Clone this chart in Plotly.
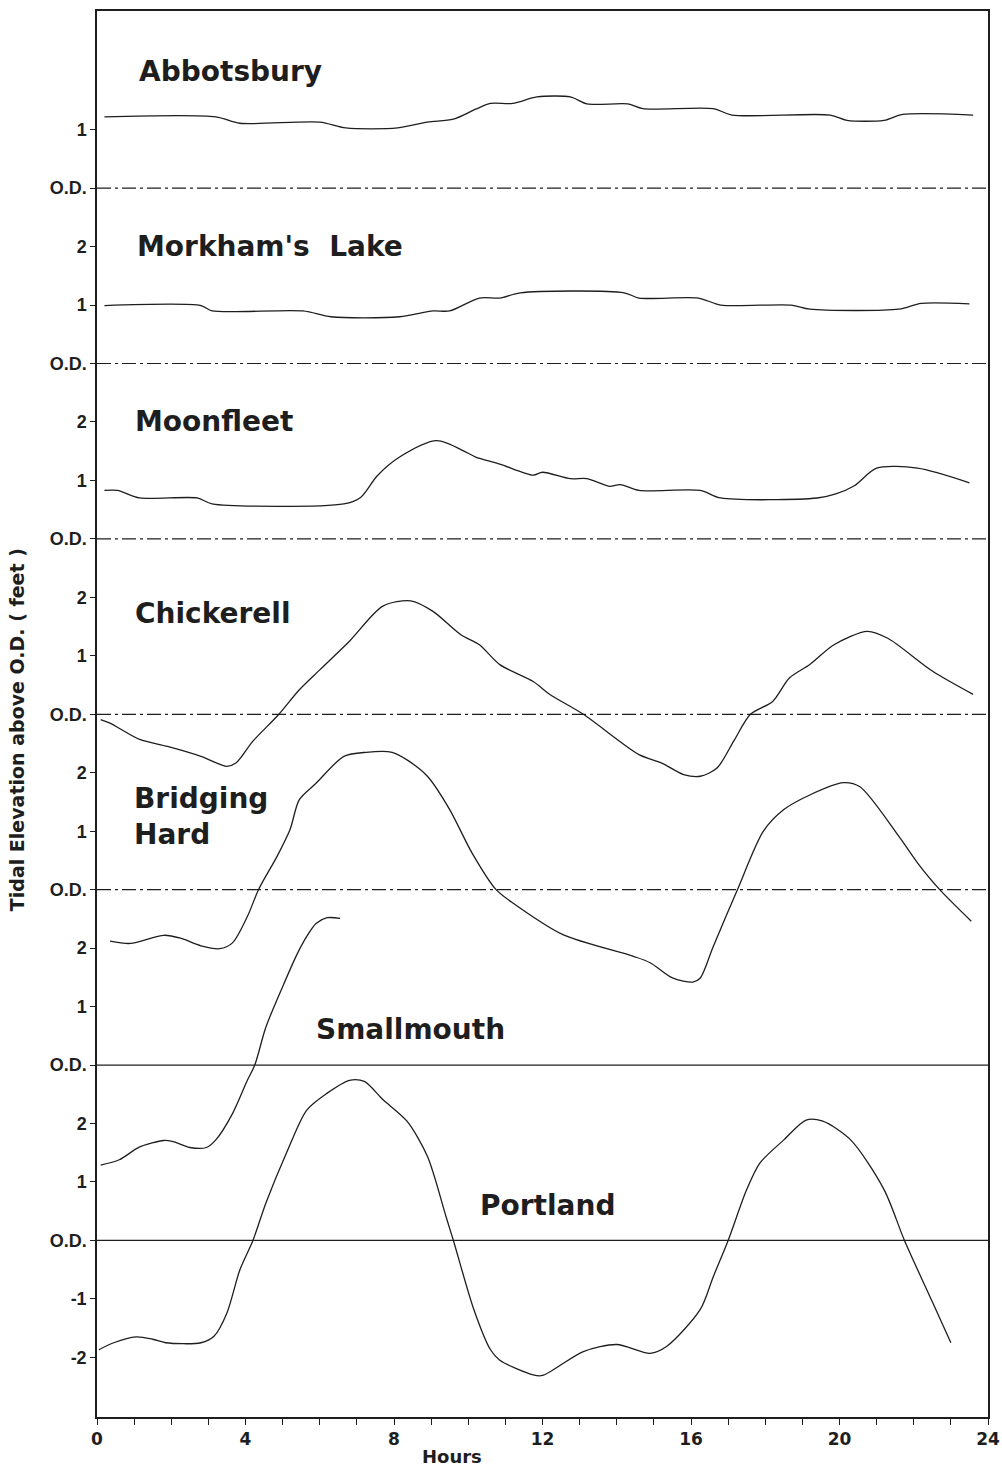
import plotly.graph_objects as go

# ---------------- data (hours, elevation above each station's O.D. in feet) -------------
abb_h = [0.2, 3.2, 3.85, 6.0, 6.7, 8.1, 8.9, 9.6, 10.2, 10.6, 11.2, 11.85, 12.75, 13.2, 14.3, 14.7, 16.6, 17.1, 19.75, 20.2, 21.2, 21.7, 23.6]
abb_v = [1.22, 1.22, 1.11, 1.13, 1.03, 1.03, 1.13, 1.18, 1.35, 1.45, 1.45, 1.56, 1.56, 1.44, 1.44, 1.36, 1.36, 1.25, 1.25, 1.16, 1.16, 1.26, 1.25]

mork_h = [0.2, 2.8, 3.1, 5.55, 6.3, 8.15, 9.05, 9.5, 10.3, 10.85, 11.4, 14.2, 14.6, 16.2, 16.8, 18.7, 19.2, 21.6, 22.2, 23.5]
mork_v = [0.99, 0.99, 0.90, 0.90, 0.80, 0.80, 0.90, 0.90, 1.12, 1.12, 1.21, 1.21, 1.12, 1.12, 1.0, 1.0, 0.93, 0.93, 1.03, 1.02]

moon_h = [0.2, 0.55, 1.15, 2.7, 3.1, 6.65, 7.1, 7.55, 8.15, 9.15, 9.95, 10.2, 10.85, 11.75, 12.0, 12.75, 13.2, 13.8, 14.1, 14.6, 16.25, 16.8, 19.4, 19.9, 20.4, 21.0, 22.1, 23.5]
moon_v = [0.83, 0.83, 0.70, 0.70, 0.60, 0.60, 0.71, 1.08, 1.40, 1.68, 1.48, 1.40, 1.28, 1.09, 1.14, 1.03, 1.03, 0.90, 0.93, 0.83, 0.83, 0.70, 0.70, 0.77, 0.91, 1.21, 1.21, 0.96]

chick_h = [0.1, 0.35, 1.15, 1.9, 2.8, 3.5, 3.75, 4.2, 4.9, 5.45, 6.0, 6.8, 7.7, 8.45, 9.05, 9.8, 10.3, 10.85, 11.75, 12.2, 13.1, 14.6, 15.2, 15.8, 16.25, 16.7, 17.15, 17.6, 18.2, 18.65, 19.2, 19.85, 20.75, 21.3, 22.5, 23.6]
chick_v = [-0.09, -0.15, -0.43, -0.55, -0.72, -0.89, -0.83, -0.46, 0.0, 0.42, 0.76, 1.25, 1.85, 1.94, 1.76, 1.36, 1.19, 0.85, 0.56, 0.34, 0.0, -0.69, -0.83, -1.03, -1.06, -0.92, -0.46, 0.0, 0.22, 0.62, 0.85, 1.19, 1.42, 1.30, 0.74, 0.34]

bridg_h = [0.35, 0.9, 1.8, 2.25, 2.8, 3.3, 3.65, 4.05, 4.35, 4.85, 5.2, 5.45, 5.9, 6.65, 7.25, 7.95, 8.35, 8.9, 9.5, 10.1, 10.75, 11.25, 12.55, 14.45, 14.9, 15.5, 16.05, 16.25, 16.6, 17.25, 17.95, 18.5, 19.2, 20.1, 20.55, 21.6, 22.1, 22.7, 23.55]
bridg_v = [-0.88, -0.92, -0.78, -0.83, -0.96, -1.01, -0.91, -0.46, 0.0, 0.57, 1.03, 1.54, 1.82, 2.28, 2.35, 2.35, 2.22, 1.94, 1.37, 0.63, 0.0, -0.25, -0.77, -1.14, -1.25, -1.51, -1.58, -1.51, -0.97, 0.0, 1.0, 1.37, 1.62, 1.83, 1.76, 0.91, 0.46, 0.0, -0.54]

small_h = [0.1, 0.6, 1.15, 1.8, 2.05, 2.5, 2.95, 3.2, 3.65, 4.05, 4.25, 4.55, 5.0, 5.4, 5.65, 5.9, 6.2, 6.55]
small_v = [-1.71, -1.62, -1.40, -1.29, -1.31, -1.41, -1.41, -1.28, -0.83, -0.26, 0.0, 0.65, 1.34, 1.91, 2.20, 2.42, 2.52, 2.51]

port_h = [0.05, 0.45, 1.05, 1.5, 1.85, 2.8, 3.15, 3.5, 3.85, 4.2, 4.55, 5.1, 5.65, 6.2, 6.8, 7.2, 7.7, 8.35, 8.9, 9.4, 9.6, 10.15, 10.6, 10.85, 11.75, 12.0, 13.1, 14.0, 14.9, 15.35, 16.25, 16.6, 17.0, 17.5, 17.85, 18.5, 19.1, 19.55, 20.3, 21.2, 21.75, 22.5, 23.0]
port_v = [-1.87, -1.75, -1.65, -1.69, -1.75, -1.75, -1.64, -1.24, -0.50, 0.0, 0.64, 1.49, 2.23, 2.52, 2.74, 2.72, 2.41, 2.04, 1.44, 0.41, 0.0, -1.18, -1.87, -2.05, -2.30, -2.31, -1.90, -1.78, -1.93, -1.81, -1.18, -0.62, 0.0, 0.87, 1.32, 1.72, 2.06, 2.04, 1.72, 0.87, 0.0, -1.05, -1.75]

station_names = ["Abbotsbury", "Morkham's  Lake", "Moonfleet", "Chickerell", "Bridging<br>Hard", "Smallmouth", "Portland"]
station_hours = [abb_h, mork_h, moon_h, chick_h, bridg_h, small_h, port_h]
station_vals = [abb_v, mork_v, moon_v, chick_v, bridg_v, small_v, port_v]
# per-station tick labels (relative feet)
station_ticks = [[0, 1], [0, 1, 2], [0, 1, 2], [0, 1, 2], [0, 1, 2], [0, 1, 2], [-2, -1, 0, 1, 2]]
hour_ticks = list(range(0, 25))

# ---------------- layout of the stacked panels ----------------
panel_offset = [18, 15, 12, 9, 6, 3, 0]      # vertical offset (feet) of each panel's O.D.
label_pos = [(1.08, 20.0), (1.03, 17.0), (0.98, 14.0), (0.98, 10.73), (0.95, 7.25), (5.85, 3.6), (10.25, 0.59)]
solid_base = [False, False, False, False, False, True, True]

INK = "#1e1e1e"
FONT = "DejaVu Sans"
TICKFONT = "Liberation Sans"

fig = go.Figure()

for name, hh, vv, off in zip(station_names, station_hours, station_vals, panel_offset):
    fig.add_trace(go.Scatter(
        x=hh, y=[v + off for v in vv], mode="lines",
        line=dict(color=INK, width=1.3, shape="spline", smoothing=0.8),
        name=name.replace("<br>", " "), showlegend=False, hoverinfo="skip"))

shapes = []
for off, solid in zip(panel_offset, solid_base):
    shapes.append(dict(type="line", xref="paper", yref="y", x0=0, x1=1, y0=off, y1=off,
                       line=dict(color=INK, width=1.2,
                                 dash="solid" if solid else "14px,4px,3px,4px")))

tickvals, ticktext = [], []
for off, ticks in zip(panel_offset, station_ticks):
    for t in ticks:
        tickvals.append(off + t)
        ticktext.append("O.D." if t == 0 else str(t))
# unlabelled tick in the Morkham's Lake panel
tickvals.append(panel_offset[1] + 2)
ticktext.append("")

annotations = []
for name, (lx, ly) in zip(station_names, label_pos):
    annotations.append(dict(x=lx, y=ly, xref="x", yref="y", text=name, showarrow=False,
                            xanchor="left", yanchor="middle", align="left",
                            font=dict(family=FONT, size=28, color=INK, weight="bold")))
annotations.append(dict(x=9.56, y=-0.028, xref="x", yref="paper", text="Hours", showarrow=False,
                        xanchor="center", yanchor="middle",
                        font=dict(family=FONT, size=18, color=INK, weight="bold")))
annotations.append(dict(x=-0.089, y=0.489, xref="paper", yref="paper",
                        text="Tidal Elevation above O.D. ( feet )", showarrow=False, textangle=-90,
                        xanchor="center", yanchor="middle",
                        font=dict(family=FONT, size=19, color=INK, weight="bold")))

fig.update_layout(
    width=1002, height=1470,
    margin=dict(l=97, r=14, t=11, b=53, autoexpand=False),
    paper_bgcolor="white", plot_bgcolor="white",
    shapes=shapes, annotations=annotations,
    xaxis=dict(range=[0, 24], tickmode="array", tickvals=hour_ticks,
               ticktext=[str(h) if h % 4 == 0 else "" for h in hour_ticks],
               ticks="outside", ticklen=6, tickwidth=1.3, tickcolor=INK,
               showline=True, linecolor=INK, linewidth=1.5, mirror=True,
               showgrid=False, zeroline=False, automargin=False,
               tickfont=dict(family=FONT, size=17, color=INK, weight="bold")),
    yaxis=dict(range=[-3.02, 21.03], tickmode="array", tickvals=tickvals, ticktext=ticktext,
               ticks="outside", ticklen=5, tickwidth=1.3, tickcolor=INK,
               showline=True, linecolor=INK, linewidth=1.5, mirror=True,
               showgrid=False, zeroline=False, automargin=False,
               tickfont=dict(family=TICKFONT, size=18, color=INK, weight="bold")),
)

fig.write_html("out.html")
